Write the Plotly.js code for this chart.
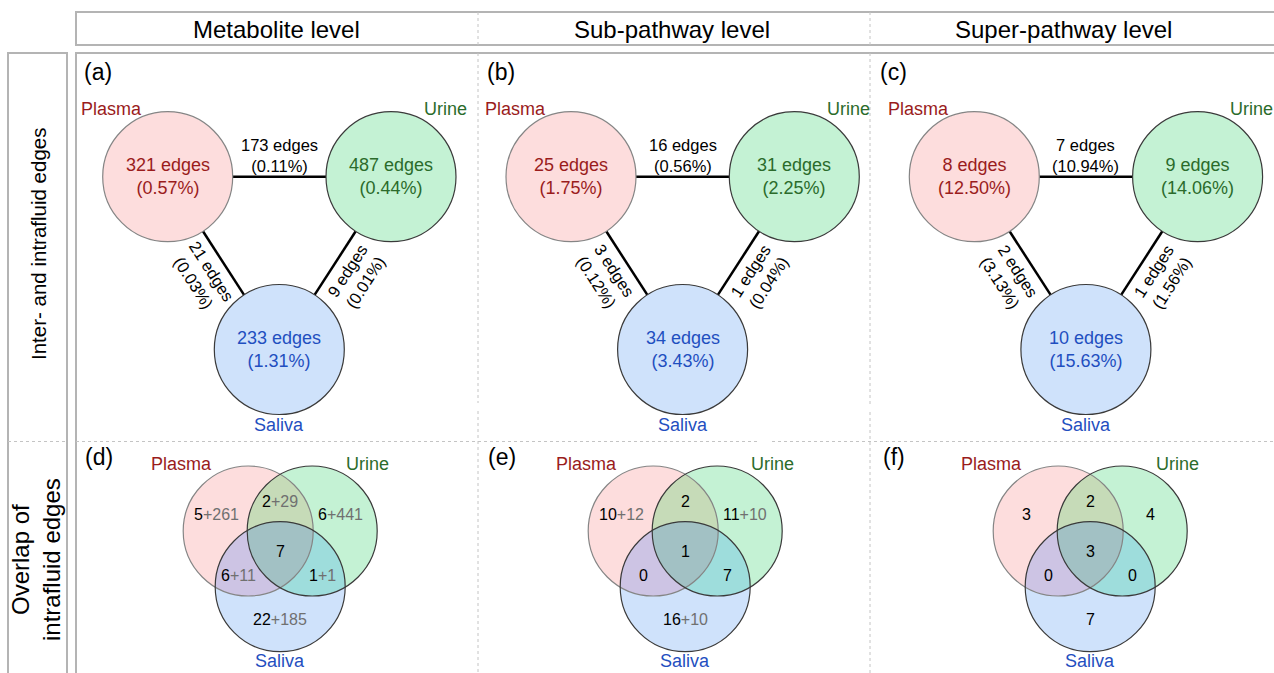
<!DOCTYPE html>
<html><head><meta charset="utf-8">
<script src="https://cdn.plot.ly/plotly-3.0.1.min.js"></script>
<style>
html,body{margin:0;padding:0;background:#fff;}
#chart{width:1274px;height:673px;}
</style></head><body><div id="chart"></div>
<script>
// ---------------- data ----------------
const levels = ['Metabolite level', 'Sub-pathway level', 'Super-pathway level'];
const rowTitles = ['Inter- and intrafluid edges', 'Overlap of<br>intrafluid edges'];
const panelTop = ['(a)', '(b)', '(c)'];
const panelBottom = ['(d)', '(e)', '(f)'];
const fluids = ['Plasma', 'Urine', 'Saliva'];
// intrafluid edges per level: [Plasma, Urine, Saliva]
const intraEdges = [[321, 487, 233], [25, 31, 34], [8, 9, 10]];
const intraPct = [['0.57%', '0.44%', '1.31%'], ['1.75%', '2.25%', '3.43%'], ['12.50%', '14.06%', '15.63%']];
// interfluid edges per level: [Plasma-Urine, Plasma-Saliva, Urine-Saliva]
const interEdges = [[173, 21, 9], [16, 3, 1], [7, 2, 1]];
const interPct = [['0.11%', '0.03%', '0.01%'], ['0.56%', '0.12%', '0.04%'], ['10.94%', '3.13%', '1.56%']];
// Venn overlap counts per level ([shared, extra] or [shared])
const vennPlasma = [[5, 261], [10, 12], [3]];
const vennUrine = [[6, 441], [11, 10], [4]];
const vennSaliva = [[22, 185], [16, 10], [7]];
const vennPlasmaUrine = [[2, 29], [2], [2]];
const vennPlasmaSaliva = [[6, 11], [0], [0]];
const vennUrineSaliva = [[1, 1], [7], [0]];
const vennAll = [[7], [1], [3]];

// ---------------- style ----------------
const FONT = 'Liberation Sans, Arial, sans-serif';
const txtCol = ['#9a1c1c', '#2b6b2b', '#1f4fc0'];
const fillCol = ['#fddddd', '#c4f2d4', '#cfe2fb'];
const lensCol = {PU: '#c6dbb8', PS: '#cdc4e4', US: '#9edddc', PUS: '#a2c1c4'};
const edgeCol = ['#858585', '#3a3a3a', '#3a3a3a'];
const boxCol = '#b4b4b4';
const dotCol = '#c4c4c4';
const R = 65;

const shapes = [], ann = [];
function circle(c, fill, line) {
  shapes.push({type: 'circle', xref: 'x', yref: 'y', x0: c[0] - R, x1: c[0] + R, y0: c[1] - R, y1: c[1] + R,
    fillcolor: fill, line: {color: line, width: line ? 1.2 : 0}});
}
function seg(x0, y0, x1, y1, color, width, dash) {
  shapes.push({type: 'line', xref: 'x', yref: 'y', x0, y0, x1, y1, line: {color, width, dash: dash || 'solid'}});
}
function rect(x0, y0, x1, y1) {
  shapes.push({type: 'rect', xref: 'x', yref: 'y', x0, y0, x1, y1, line: {color: boxCol, width: 2}, fillcolor: 'rgba(0,0,0,0)'});
}
function text(x, y, t, size, color, opts) {
  ann.push(Object.assign({x, y, xref: 'x', yref: 'y', text: t, showarrow: false, xanchor: 'center', yanchor: 'middle',
    font: {family: FONT, size, color}}, opts || {}));
}
function vtxt(v) {
  return v.length > 1 ? v[0] + '<span style="color:#707070">+' + v[1] + '</span>' : String(v[0]);
}
// polygon helpers for Venn overlap regions
function circPoly(c) {
  const pts = [];
  for (let k = 0; k < 360; k++) { const t = k * Math.PI / 180; pts.push([c[0] + R * Math.cos(t), c[1] + R * Math.sin(t)]); }
  return pts;
}
function clipPoly(subject, clip) {
  let out = subject;
  const n = clip.length;
  for (let i = 0; i < n && out.length; i++) {
    const a = clip[i], b = clip[(i + 1) % n];
    const side = p => (b[0] - a[0]) * (p[1] - a[1]) - (b[1] - a[1]) * (p[0] - a[0]);
    const inp = out; out = [];
    for (let j = 0; j < inp.length; j++) {
      const p = inp[j], q = inp[(j + 1) % inp.length];
      const sp = side(p), sq = side(q);
      if (sp >= 0) out.push(p);
      if ((sp >= 0) !== (sq >= 0)) {
        const t = sp / (sp - sq);
        out.push([p[0] + t * (q[0] - p[0]), p[1] + t * (q[1] - p[1])]);
      }
    }
  }
  return out;
}
function polyShape(pts, fill) {
  shapes.push({type: 'path', xref: 'x', yref: 'y', fillcolor: fill, line: {width: 0},
    path: 'M' + pts.map(p => p[0].toFixed(2) + ',' + p[1].toFixed(2)).join('L') + 'Z'});
}

// frames
rect(76, 12, 1290, 45);
rect(76, 53, 1290, 690);
rect(8, 53, 67, 690);
// dotted dividers
[478, 870].forEach((x, k) => {
  seg(x, 12, x, 45, dotCol, 1, 'dot');
  seg(x, 53, x, 403 + 2 * k, dotCol, 1, 'dot');
  seg(x, 411 + k, x, 673, dotCol, 1, 'dot');
});
seg(8, 441.5, 67, 441.5, dotCol, 1, 'dot');
seg(76, 441.5, 760, 441.5, dotCol, 1, 'dot');
seg(772, 441.5, 1274, 441.5, dotCol, 1, 'dot');

// headers
const headX = [276, 672, 1063];
levels.forEach((l, i) => text(headX[i], 29, l, 24, '#000'));
text(38, 244, rowTitles[0], 20.5, '#000', {textangle: -90});
text(36, 560, rowTitles[1], 24, '#000', {textangle: -90});

const topLetterX = [82, 485, 878];
const botLetterX = [83, 486, 881];

// top row: network triangles
for (let i = 0; i < 3; i++) {
  const px = 167.7 + 403.3 * i;
  const C = [[px, 176.7], [px + 223.3, 176.7], [px + 111.6, 349.5]];
  text(topLetterX[i], 72, panelTop[i], 23, '#000', {xanchor: 'left'});
  const pairs = [[0, 1], [0, 2], [1, 2]];
  const gx = (C[0][0] + C[1][0] + C[2][0]) / 3;
  pairs.forEach((p, k) => {
    const A = C[p[0]], B = C[p[1]];
    const dx = B[0] - A[0], dy = B[1] - A[1], L = Math.hypot(dx, dy), ux = dx / L, uy = dy / L;
    seg(A[0] + R * ux, A[1] + R * uy, B[0] - R * ux, B[1] - R * uy, '#000', 2.5);
    const mx = (A[0] + B[0]) / 2, my = (A[1] + B[1]) / 2;
    const lab = interEdges[i][k] + ' edges<br>(' + interPct[i][k] + ')';
    if (k === 0) {
      text(mx, my - 21, lab, 16.5, '#000');
    } else {
      let nx = -uy, ny = ux;
      if (nx * (mx - gx) < 0) { nx = -nx; ny = -ny; }
      const ang = Math.atan2(dy, dx) * 180 / Math.PI;
      const tang = k === 1 ? ang : ang - 180;
      text(mx + nx * 25, my + ny * 25, lab, 16.5, '#000', {textangle: tang});
    }
  });
  C.forEach((c, f) => {
    circle(c, fillCol[f], edgeCol[f]);
    text(c[0], c[1], intraEdges[i][f] + ' edges<br>(' + intraPct[i][f] + ')', 18, txtCol[f]);
  });
  text(C[0][0] - 56, 108.5, fluids[0], 18, txtCol[0]);
  text(C[1][0] + 54, 108.5, fluids[1], 18, txtCol[1]);
  text(C[2][0], 424.5, fluids[2], 18, txtCol[2]);
}

// bottom row: Venn diagrams
for (let i = 0; i < 3; i++) {
  const cx = 280.2 + 405 * i;
  const C = [[cx - 32, 531], [cx + 32, 531], [cx, 586.7]];
  text(botLetterX[i], 457, panelBottom[i], 23, '#000', {xanchor: 'left'});
  C.forEach((c, f) => circle(c, fillCol[f], null));
  const P = circPoly(C[0]), U = circPoly(C[1]), S = circPoly(C[2]);
  polyShape(clipPoly(P, U), lensCol.PU);
  polyShape(clipPoly(P, S), lensCol.PS);
  polyShape(clipPoly(U, S), lensCol.US);
  polyShape(clipPoly(clipPoly(P, U), S), lensCol.PUS);
  C.forEach((c, f) => circle(c, 'rgba(0,0,0,0)', edgeCol[f]));
  text(cx - 98.5, 463.5, fluids[0], 18, txtCol[0]);
  text(cx + 87.7, 463.5, fluids[1], 18, txtCol[1]);
  text(cx, 661, fluids[2], 18, txtCol[2]);
  text(cx - 64, 514, vtxt(vennPlasma[i]), 16, '#000');
  text(cx + 60, 514, vtxt(vennUrine[i]), 16, '#000');
  text(cx, 619, vtxt(vennSaliva[i]), 16, '#000');
  text(cx, 501, vtxt(vennPlasmaUrine[i]), 16, '#000');
  text(cx - 42, 575, vtxt(vennPlasmaSaliva[i]), 16, '#000');
  text(cx + 42, 575, vtxt(vennUrineSaliva[i]), 16, '#000');
  text(cx, 551, vtxt(vennAll[i]), 16, '#000');
}

const layout = {
  width: 1274, height: 673,
  margin: {l: 0, r: 0, t: 0, b: 0, pad: 0},
  paper_bgcolor: '#fff', plot_bgcolor: '#fff',
  showlegend: false,
  xaxis: {range: [0, 1274], visible: false, fixedrange: true},
  yaxis: {range: [673, 0], visible: false, fixedrange: true},
  shapes, annotations: ann
};
Plotly.newPlot('chart', [{x: [0], y: [0], mode: 'none', hoverinfo: 'skip', type: 'scatter'}], layout,
  {staticPlot: true, displayModeBar: false});
</script></body></html>
